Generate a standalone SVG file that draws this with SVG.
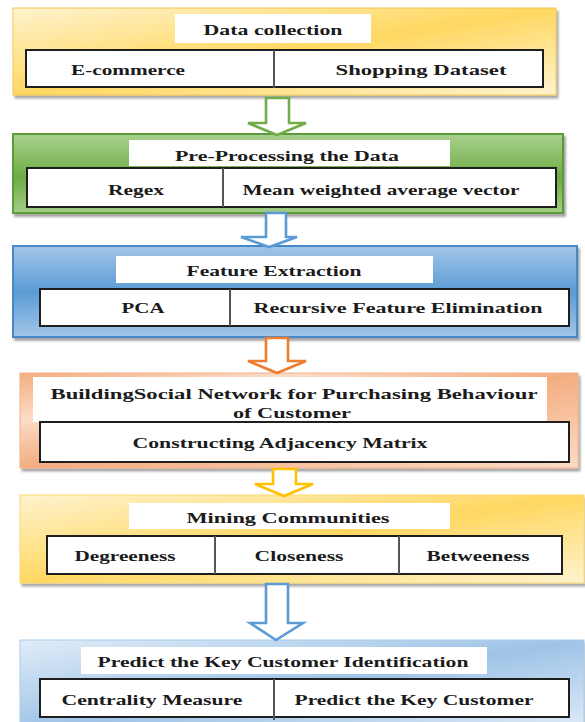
<svg xmlns="http://www.w3.org/2000/svg" width="585" height="722" viewBox="0 0 585 722">
  <defs>
    <linearGradient id="gYellow" x1="0" y1="0" x2="1" y2="1">
      <stop offset="0" stop-color="#fff3cf"/>
      <stop offset="0.5" stop-color="#ffd862"/>
      <stop offset="1" stop-color="#fff3cf"/>
    </linearGradient>
    <linearGradient id="gGreen" x1="0" y1="0" x2="0" y2="1">
      <stop offset="0" stop-color="#a9d18e"/>
      <stop offset="0.55" stop-color="#6dab44"/>
      <stop offset="1" stop-color="#a3ce88"/>
    </linearGradient>
    <linearGradient id="gBlue" x1="0" y1="0" x2="0" y2="1">
      <stop offset="0" stop-color="#a2c6e8"/>
      <stop offset="0.5" stop-color="#5b9bd5"/>
      <stop offset="1" stop-color="#a2c6e8"/>
    </linearGradient>
    <linearGradient id="gOrange" x1="0" y1="0" x2="1" y2="1">
      <stop offset="0" stop-color="#f4ad80"/>
      <stop offset="0.25" stop-color="#fbdcc7"/>
      <stop offset="0.5" stop-color="#f4ad80"/>
      <stop offset="1" stop-color="#fbdcc7"/>
    </linearGradient>
    <linearGradient id="gBlueLight" x1="0" y1="0" x2="1" y2="1">
      <stop offset="0" stop-color="#e0ecf8"/>
      <stop offset="0.5" stop-color="#9fc4e7"/>
      <stop offset="1" stop-color="#e0ecf8"/>
    </linearGradient>
    <filter id="shadow" x="-5%" y="-10%" width="110%" height="130%">
      <feDropShadow dx="2" dy="3" stdDeviation="1.2" flood-color="#000" flood-opacity="0.35"/>
    </filter>
  </defs>
  <style>
    .panel { filter: url(#shadow); }
    .title { fill: #ffffff; }
    .row { fill: #ffffff; stroke: #1e1e1e; stroke-width: 2; }
    .div { stroke: #555555; stroke-width: 2; }
    .arrow { fill: #ffffff; stroke-width: 2.6; stroke-linejoin: miter; }
    text { font-family: "Liberation Serif", "Times New Roman", serif; font-weight: bold; font-size: 15px; fill: #1b1b1b; text-anchor: middle; }
  </style>

  <rect width="585" height="722" fill="#ffffff"/>

  <!-- stage 1 -->
  <g id="data-collection">
    <rect class="panel" x="13" y="8" width="543" height="87" fill="url(#gYellow)" stroke="#f3c54e" stroke-width="1"/>
    <rect class="title" x="175" y="14" width="196" height="29"/>
    <text x="273" y="35" textLength="139" lengthAdjust="spacingAndGlyphs">Data collection</text>
    <rect class="row" x="26" y="50" width="517" height="37"/>
    <line class="div" x1="274" y1="50" x2="274" y2="88"/>
    <text x="128" y="75" textLength="114" lengthAdjust="spacingAndGlyphs">E-commerce</text>
    <text x="421" y="75" textLength="171" lengthAdjust="spacingAndGlyphs">Shopping Dataset</text>
  </g>

  <!-- stage 2 -->
  <g id="pre-processing">
    <rect class="panel" x="13" y="134" width="550" height="79" fill="url(#gGreen)" stroke="#5a9a3a" stroke-width="2"/>
    <rect class="title" x="129" y="140" width="321" height="26"/>
    <text x="287" y="161" textLength="224" lengthAdjust="spacingAndGlyphs">Pre-Processing the Data</text>
    <rect class="row" x="27" y="168" width="529" height="39"/>
    <line class="div" x1="223" y1="168" x2="223" y2="207"/>
    <text x="136" y="195" textLength="56" lengthAdjust="spacingAndGlyphs">Regex</text>
    <text x="381" y="195" textLength="277" lengthAdjust="spacingAndGlyphs">Mean weighted average vector</text>
  </g>

  <!-- stage 3 -->
  <g id="feature-extraction">
    <rect class="panel" x="13" y="246" width="564" height="91" fill="url(#gBlue)" stroke="#4a88c7" stroke-width="2"/>
    <rect class="title" x="116" y="256" width="317" height="27"/>
    <text x="274" y="276" textLength="175" lengthAdjust="spacingAndGlyphs">Feature Extraction</text>
    <rect class="row" x="40" y="289" width="529" height="37"/>
    <line class="div" x1="230" y1="289" x2="230" y2="326"/>
    <text x="143" y="313" textLength="43" lengthAdjust="spacingAndGlyphs">PCA</text>
    <text x="398" y="313" textLength="289" lengthAdjust="spacingAndGlyphs">Recursive Feature Elimination</text>
  </g>

  <!-- stage 4 -->
  <g id="social-network">
    <rect class="panel" x="20" y="373" width="558" height="95" fill="url(#gOrange)" stroke="#f2b08a" stroke-width="1"/>
    <rect class="title" x="33" y="377" width="514" height="45"/>
    <text x="294" y="399" textLength="487" lengthAdjust="spacingAndGlyphs">BuildingSocial Network for Purchasing Behaviour</text>
    <text x="292" y="418" textLength="118" lengthAdjust="spacingAndGlyphs">of Customer</text>
    <rect class="row" x="40" y="422" width="529" height="40"/>
    <text x="280" y="448" textLength="295" lengthAdjust="spacingAndGlyphs">Constructing Adjacency Matrix</text>
  </g>

  <!-- stage 5 -->
  <g id="mining-communities">
    <rect class="panel" x="20" y="495" width="564" height="88" fill="url(#gYellow)" stroke="#fbd873" stroke-width="1"/>
    <rect class="title" x="129" y="503" width="321" height="26"/>
    <text x="288" y="523" textLength="203" lengthAdjust="spacingAndGlyphs">Mining Communities</text>
    <rect class="row" x="47" y="536" width="515" height="38"/>
    <line class="div" x1="215" y1="536" x2="215" y2="574"/>
    <line class="div" x1="399" y1="536" x2="399" y2="574"/>
    <text x="125" y="561" textLength="101" lengthAdjust="spacingAndGlyphs">Degreeness</text>
    <text x="299" y="561" textLength="89" lengthAdjust="spacingAndGlyphs">Closeness</text>
    <text x="478" y="561" textLength="103" lengthAdjust="spacingAndGlyphs">Betweeness</text>
  </g>

  <!-- stage 6 -->
  <g id="key-customer">
    <rect class="panel" x="20" y="640" width="564" height="92" fill="url(#gBlueLight)" stroke="#a9cbea" stroke-width="1"/>
    <rect class="title" x="81" y="647" width="406" height="27"/>
    <text x="283" y="667" textLength="371" lengthAdjust="spacingAndGlyphs">Predict the Key Customer Identification</text>
    <rect class="row" x="40" y="679" width="529" height="38"/>
    <line class="div" x1="274" y1="679" x2="274" y2="720"/>
    <text x="152" y="705" textLength="181" lengthAdjust="spacingAndGlyphs">Centrality Measure</text>
    <text x="414" y="705" textLength="239" lengthAdjust="spacingAndGlyphs">Predict the Key Customer</text>
  </g>

  <!-- block arrows between stages -->
  <g id="connectors">
    <polygon class="arrow" stroke="#70ad47" points="266,98 289,98 289,123 306,123 277,135 248,123 266,123"/>
    <polygon class="arrow" stroke="#5b9bd5" points="266,213 286,213 286,237 297,237 269,247 241,237 266,237"/>
    <polygon class="arrow" stroke="#ed7d31" points="266,338 288,338 288,361 306,361 277,373 248,361 266,361"/>
    <polygon class="arrow" stroke="#ffc000" points="273,469 296,469 296,484 313,484 284,496 255,484 273,484"/>
    <polygon class="arrow" stroke="#5b9bd5" points="266,584 288,584 288,623 303,623 276,640 250,623 266,623"/>
  </g>
</svg>
